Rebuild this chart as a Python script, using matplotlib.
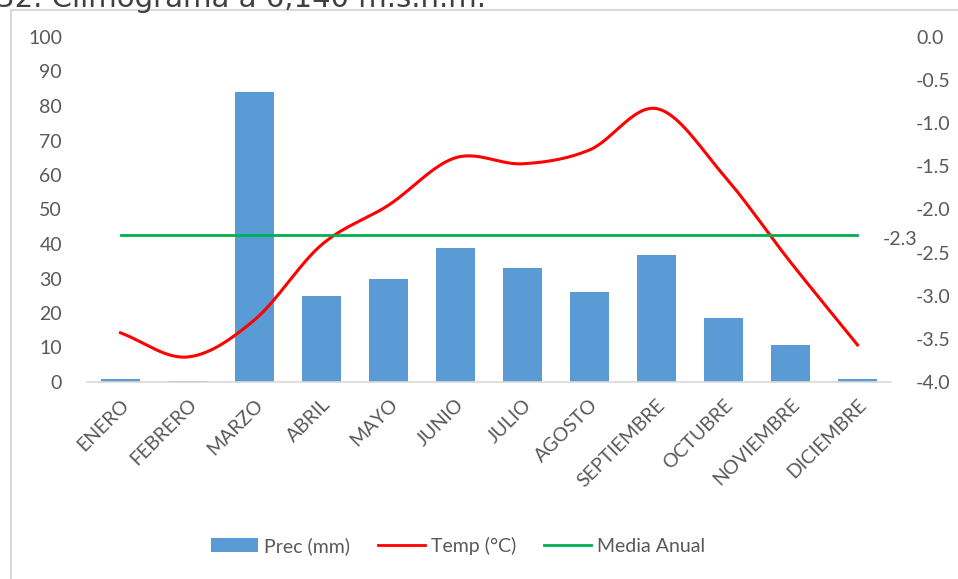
import numpy as np
import matplotlib
matplotlib.use("Agg")
import matplotlib.pyplot as plt
from matplotlib.lines import Line2D
from matplotlib.patches import Patch

plt.rcParams['font.family'] = ['Lato', 'DejaVu Sans']

meses = ["ENERO", "FEBRERO", "MARZO", "ABRIL", "MAYO", "JUNIO", "JULIO",
         "AGOSTO", "SEPTIEMBRE", "OCTUBRE", "NOVIEMBRE", "DICIEMBRE"]
prec_mm = [1.0, 0.2, 84.2, 25.0, 30.0, 38.9, 32.9, 26.1, 36.8, 18.6, 10.6, 0.9]
temp_c = [-3.43, -3.71, -3.28, -2.41, -1.95, -1.40, -1.47, -1.31, -0.83, -1.60, -2.61, -3.57]
media_anual = -2.3

titulo = "32. Climograma a 6,140 m.s.n.m."

gris = "#595959"
azul = "#5B9BD5"
rojo = "#FF0000"
verde = "#00B050"


def catmull_rom(x, y, n=30):
    """Smooth curve through the points (Catmull-Rom, as in spreadsheet smoothed lines)."""
    x = np.asarray(x, float)
    y = np.asarray(y, float)
    px = np.concatenate([[2 * x[0] - x[1]], x, [2 * x[-1] - x[-2]]])
    py = np.concatenate([[2 * y[0] - y[1]], y, [2 * y[-1] - y[-2]]])
    xs, ys = [], []
    t = np.linspace(0, 1, n, endpoint=False)
    for i in range(1, len(px) - 2):
        for p, out in ((px, xs), (py, ys)):
            p0, p1, p2, p3 = p[i - 1], p[i], p[i + 1], p[i + 2]
            out.extend(0.5 * ((2 * p1) + (-p0 + p2) * t
                              + (2 * p0 - 5 * p1 + 4 * p2 - p3) * t ** 2
                              + (-p0 + 3 * p1 - 3 * p2 + p3) * t ** 3))
    xs.append(x[-1])
    ys.append(y[-1])
    return np.array(xs), np.array(ys)


fig = plt.figure(figsize=(9.58, 5.79), dpi=100)

# chart frame
fig.add_artist(Line2D([11 / 958, 11 / 958], [0, 1 - 10 / 579], color="#D9D9D9", lw=1.5))
fig.add_artist(Line2D([11 / 958, 1], [1 - 10 / 579, 1 - 10 / 579], color="#D9D9D9", lw=1.5))

fig.text(-4 / 958, 1 - 7 / 579, titulo, fontsize=21, color="#404040",
         ha="left", va="baseline", family=["DejaVu Sans"])

ax = fig.add_axes([87 / 958, 1 - 382 / 579, 804 / 958, 345 / 579])
x = np.arange(len(meses))

ax.bar(x, prec_mm, width=0.57, color=azul, zorder=2)
ax.set_xlim(-0.5, len(meses) - 0.5)
ax.set_ylim(0, 100)
ax.set_yticks(np.arange(0, 101, 10))
ax.set_xticks(x)
ax.set_xticklabels(meses, rotation=45, ha="right", rotation_mode="anchor")

for s in ["top", "right", "left"]:
    ax.spines[s].set_visible(False)
ax.spines["bottom"].set_color("#D9D9D9")
ax.spines["bottom"].set_linewidth(1.2)
ax.tick_params(axis="both", length=0, colors=gris, labelsize=14)
ax.tick_params(axis="y", pad=18)
ax.tick_params(axis="x", pad=10)

ax2 = ax.twinx()
ax2.set_ylim(-4.0, 0.0)
ax2.set_yticks(np.arange(-4.0, 0.01, 0.5))
ax2.set_yticklabels([f"{v:.1f}" for v in np.arange(-4.0, 0.01, 0.5)])
for s in ax2.spines.values():
    s.set_visible(False)
ax2.tick_params(axis="y", length=0, colors=gris, labelsize=14, pad=18)

sx, sy = catmull_rom(x, temp_c)
ax2.plot(sx, sy, color=rojo, lw=2.2, zorder=3)
ax2.plot([x[0], x[-1]], [media_anual, media_anual], color=verde, lw=2.0, zorder=3)
ax2.annotate(f"{media_anual:.1f}", xy=(x[-1], media_anual), xytext=(18, -3),
             textcoords="offset points", ha="left", va="center",
             fontsize=14, color=gris, annotation_clip=False)

handles = [Patch(facecolor=azul, label="Prec (mm)"),
           Line2D([], [], color=rojo, lw=2, label="Temp (°C)"),
           Line2D([], [], color=verde, lw=2, label="Media Anual")]
leg = fig.legend(handles=handles, loc="center", bbox_to_anchor=(458 / 958, 1 - 546 / 579),
                 ncol=3, frameon=False, fontsize=14, handlelength=2.4,
                 handletextpad=0.3, columnspacing=1.45)
for t in leg.get_texts():
    t.set_color(gris)

fig.savefig("out.png", dpi=100)
